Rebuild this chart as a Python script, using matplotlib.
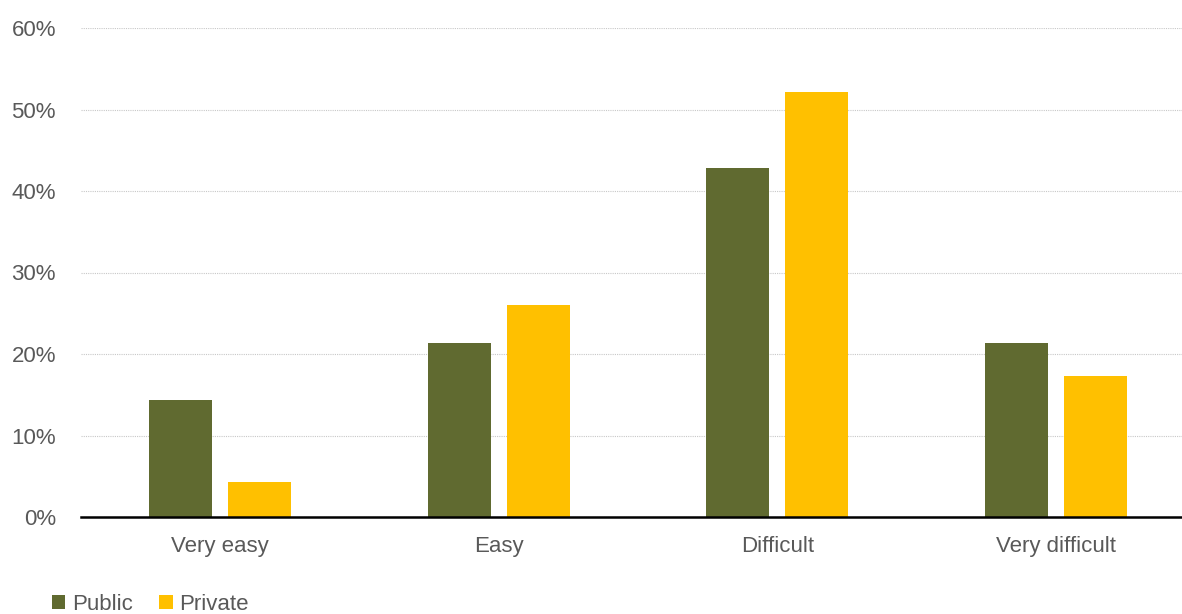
import numpy as np
import matplotlib.pyplot as plt
from matplotlib.ticker import FuncFormatter

# Share of respondents per difficulty level
categories = ["Very easy", "Easy", "Difficult", "Very difficult"]
public = [14.3, 21.4, 42.8, 21.4]
private = [4.3, 26.0, 52.1, 17.3]

plt.rcParams["font.family"] = ["Liberation Sans", "DejaVu Sans"]
TEXT = "#595959"

fig = plt.figure(figsize=(11.82, 6.14), dpi=100)
ax = fig.add_axes([81 / 1182, 97 / 614, 1101 / 1182, 489 / 614])

x = np.arange(len(categories))
w = 0.226
ax.bar(x - 0.142, public, w, color="#606A30", label="Public", zorder=3)
ax.bar(x + 0.142, private, w, color="#FFC000", label="Private", zorder=3)

ax.set_xlim(-0.5, 3.453)
ax.set_ylim(0, 60)
ax.set_yticks(range(0, 61, 10))
ax.yaxis.set_major_formatter(FuncFormatter(lambda v, _: f"{v:.0f}%"))
ax.set_xticks(x)
ax.set_xticklabels(categories)
ax.tick_params(axis="both", length=0, labelsize=16, colors=TEXT)
ax.tick_params(axis="y", pad=18)
ax.tick_params(axis="x", pad=14)

ax.grid(axis="y", color="#C8C8C8", linestyle=(0, (1, 1)), linewidth=0.8, zorder=0)
for side in ["top", "right", "left"]:
    ax.spines[side].set_visible(False)
ax.spines["bottom"].set_color("black")
ax.spines["bottom"].set_linewidth(1.8)
ax.spines["bottom"].set_zorder(4)

fig.legend(loc="lower left", bbox_to_anchor=(0.027, -0.034), ncol=2, frameon=False,
           fontsize=16, handlelength=0.6, handleheight=0.6, handletextpad=0.3,
           columnspacing=1.2, labelcolor=TEXT)

fig.savefig("out.png", dpi=100)
